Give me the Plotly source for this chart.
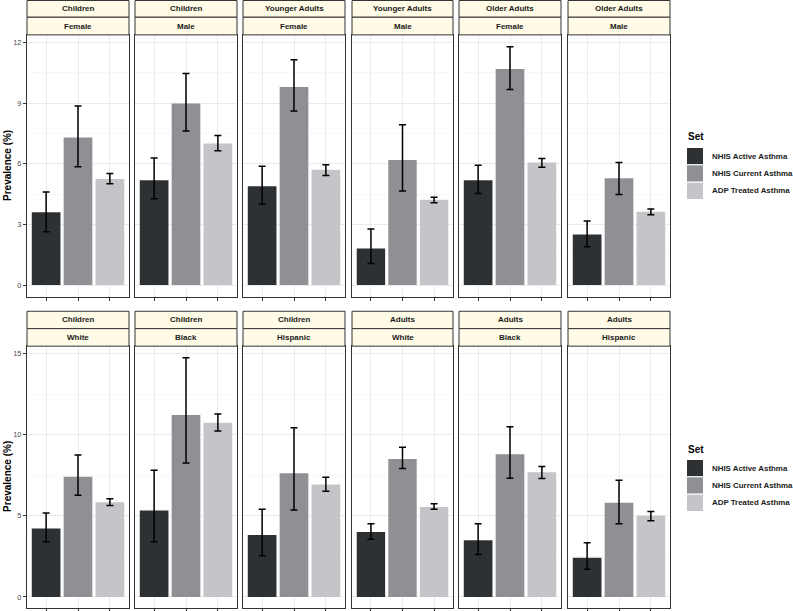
import plotly.graph_objects as go

# ---------------- data ----------------
series_names = ["NHIS Active Asthma", "NHIS Current Asthma", "ADP Treated Asthma"]
series_colors = ["#2e3134", "#8e9094", "#c4c5c8"]

top_groups = ["Children", "Children", "Younger Adults", "Younger Adults", "Older Adults", "Older Adults"]
top_sub = ["Female", "Male", "Female", "Male", "Female", "Male"]
top_vals = [[3.61, 7.30, 5.25], [5.19, 8.98, 7.01], [4.89, 9.80, 5.71],
            [1.81, 6.19, 4.22], [5.19, 10.69, 6.06], [2.50, 5.29, 3.63]]
top_hi = [[4.61, 8.86, 5.52], [6.29, 10.47, 7.40], [5.88, 11.15, 5.96],
          [2.77, 7.94, 4.35], [5.93, 11.79, 6.27], [3.17, 6.07, 3.76]]
top_lo = [[2.64, 5.86, 5.01], [4.27, 7.63, 6.65], [4.01, 8.62, 5.42],
          [1.07, 4.66, 4.07], [4.53, 9.68, 5.83], [1.90, 4.48, 3.48]]
top_ticks = [0, 3, 6, 9, 12]

bot_groups = ["Children", "Children", "Children", "Adults", "Adults", "Adults"]
bot_sub = ["White", "Black", "Hispanic", "White", "Black", "Hispanic"]
bot_vals = [[4.22, 7.40, 5.84], [5.33, 11.21, 10.74], [3.81, 7.62, 6.93],
            [4.00, 8.50, 5.55], [3.50, 8.79, 7.68], [2.42, 5.80, 5.00]]
bot_hi = [[5.18, 8.75, 6.05], [7.81, 14.73, 11.27], [5.41, 10.43, 7.38],
          [4.51, 9.22, 5.74], [4.51, 10.49, 8.03], [3.34, 7.19, 5.27]]
bot_lo = [[3.40, 6.27, 5.64], [3.40, 8.26, 10.23], [2.54, 5.35, 6.52],
          [3.55, 7.91, 5.41], [2.62, 7.32, 7.30], [1.70, 4.51, 4.69]]
bot_ticks = [0, 5, 10, 15]

y_title = "Prevalence (%)"
legend_title = "Set"

# ---------------- layout helpers ----------------
W, H = 793, 611
def px(x):
    return x / W
def py(y):
    return 1 - y / H

panel_x = [(27, 129), (135, 237), (243, 345), (352, 453), (459, 561), (568, 670)]
rows = [
    dict(groups=top_groups, sub=top_sub, vals=top_vals, hi=top_hi, lo=top_lo,
         ticks=top_ticks, plot=(35, 298), strip=(0.5, 17.3, 35), yr=(-0.59, 12.38),
         dtick=3, legend_y=137, keys_y=148),
    dict(groups=bot_groups, sub=bot_sub, vals=bot_vals, hi=bot_hi, lo=bot_lo,
         ticks=bot_ticks, plot=(347, 610), strip=(312.3, 329.7, 347.3), yr=(-0.68, 15.47),
         dtick=5, legend_y=451, keys_y=461),
]

fig = go.Figure()
shapes = []
annotations = []
FONT = "Liberation Sans, Arial, sans-serif"

n = 0
for r, row in enumerate(rows):
    for c in range(6):
        n += 1
        xa = "x" if n == 1 else f"x{n}"
        ya = "y" if n == 1 else f"y{n}"
        xkey = "xaxis" if n == 1 else f"xaxis{n}"
        ykey = "yaxis" if n == 1 else f"yaxis{n}"
        x0, x1 = panel_x[c]
        t, b = row["plot"]
        for s in range(3):
            v = row["vals"][c][s]
            fig.add_trace(go.Bar(
                x=[s + 1], y=[v], width=0.9, xaxis=xa, yaxis=ya,
                marker=dict(color=series_colors[s], line=dict(width=0)),
                error_y=dict(type="data", symmetric=False,
                             array=[row["hi"][c][s] - v],
                             arrayminus=[v - row["lo"][c][s]],
                             color="black", thickness=1.5, width=3.5),
                name=series_names[s], showlegend=False,
            ))
        fig.layout[xkey] = dict(
            domain=[px(x0), px(x1)], anchor=ya, range=[0.4, 3.6],
            tickvals=[1, 2, 3], ticktext=["", "", ""], ticks="outside", ticklen=3,
            tickcolor="#333333", showgrid=True, gridcolor="#ebebeb", gridwidth=1,
            zeroline=False, showline=True, mirror=True, linecolor="#333333", linewidth=1,
            fixedrange=True,
        )
        fig.layout[ykey] = dict(
            domain=[py(b), py(t)], anchor=xa, range=list(row["yr"]),
            tickvals=row["ticks"], showticklabels=(c == 0), ticks="outside" if c == 0 else "",
            ticklen=3, tickcolor="#333333",
            tickfont=dict(family=FONT, size=7.5, color="#4d4d4d"),
            showgrid=True, gridcolor="#ebebeb", gridwidth=1,
            minor=dict(dtick=row["dtick"] / 2, tick0=0, showgrid=True, gridcolor="#f4f4f4", gridwidth=0.6),
            zeroline=False, showline=True, mirror=True, linecolor="#333333", linewidth=1,
            fixedrange=True,
        )
        # strips
        s0, s1, s2 = row["strip"]
        for (ya0, ya1, label) in [(s0, s1, row["groups"][c]), (s1, s2, row["sub"][c])]:
            shapes.append(dict(type="rect", xref="paper", yref="paper",
                               x0=px(x0), x1=px(x1), y0=py(ya1), y1=py(ya0),
                               fillcolor="#fffbe6", line=dict(color="#333333", width=1), layer="above"))
            annotations.append(dict(xref="paper", yref="paper", x=px((x0 + x1) / 2),
                                    y=py((ya0 + ya1) / 2), text=f"<b>{label}</b>", showarrow=False,
                                    font=dict(family=FONT, size=8, color="#1a1a1a"),
                                    xanchor="center", yanchor="middle"))
    # y axis title
    t, b = row["plot"]
    annotations.append(dict(xref="paper", yref="paper", x=px(8), y=py((t + b) / 2),
                            text=f"<b>{y_title}</b>", showarrow=False, textangle=-90,
                            font=dict(family=FONT, size=10, color="black"),
                            xanchor="center", yanchor="middle"))
    # legend (drawn)
    annotations.append(dict(xref="paper", yref="paper", x=px(686), y=py(row["legend_y"]),
                            text=f"<b>{legend_title}</b>", showarrow=False,
                            font=dict(family=FONT, size=10, color="black"),
                            xanchor="left", yanchor="middle"))
    k0 = row["keys_y"]
    for s in range(3):
        yk0 = k0 + s * 17.4
        yk1 = yk0 + 17.4
        shapes.append(dict(type="rect", xref="paper", yref="paper",
                           x0=px(686.5), x1=px(703.5), y0=py(yk1), y1=py(yk0),
                           fillcolor=series_colors[s], line=dict(color="white", width=1)))
        annotations.append(dict(xref="paper", yref="paper", x=px(709.5), y=py((yk0 + yk1) / 2),
                                text=f"<b>{series_names[s]}</b>", showarrow=False,
                                font=dict(family=FONT, size=7.9, color="#1a1a1a"),
                                xanchor="left", yanchor="middle"))

fig.update_layout(
    width=W, height=H, margin=dict(l=0, r=0, t=0, b=0),
    paper_bgcolor="white", plot_bgcolor="white",
    showlegend=False, barmode="overlay", shapes=shapes, annotations=annotations,
    font=dict(family=FONT),
)
fig.write_html(
    "out.html",
    config={"displayModeBar": False, "staticPlot": True},
    post_script="document.body.style.margin='0';document.body.style.overflow='hidden';"
                "document.documentElement.style.overflow='hidden';",
)
